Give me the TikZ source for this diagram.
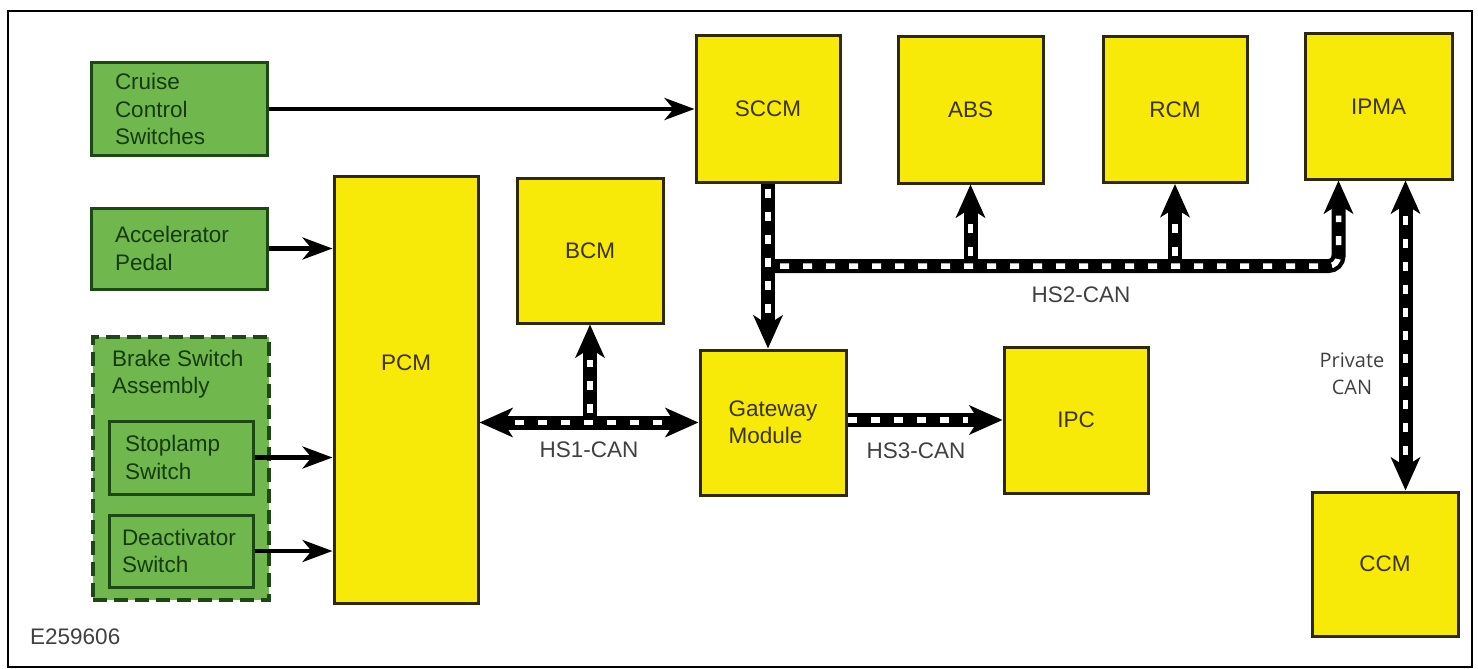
\documentclass[tikz,border=0pt]{standalone}
\usepackage{fontspec}
\setmainfont{Liberation Sans}
\newfontfamily\pcanfont{Open Sans}
\usetikzlibrary{arrows.meta}
\definecolor{gfill}{RGB}{112,184,78}
\definecolor{gdraw}{RGB}{28,72,20}
\definecolor{gtext}{RGB}{22,58,14}
\definecolor{yfill}{RGB}{247,233,8}
\definecolor{ydraw}{RGB}{48,40,10}
\definecolor{ytext}{RGB}{60,52,0}
\definecolor{ltext}{RGB}{64,64,64}
\begin{document}
\begin{tikzpicture}[x=1pt,y=-1pt,
  font=\fontsize{22.5}{27.5}\selectfont,
  ybox/.style={draw=ydraw, fill=yfill, line width=3pt, text=ytext, inner sep=0pt,
               minimum width=145pt, minimum height=146pt, align=left},
  gbox/.style={draw=gdraw, fill=gfill, line width=3pt, text=gtext, inner sep=0pt, align=left},
  lbl/.style={text=ltext, inner sep=0pt},
  thinarrow/.style={draw=black, line width=4.5pt, -{Stealth[length=30pt,width=22pt,inset=9pt]}},
  busblack/.style={draw=black, line width=14pt},
  buswhite/.style={draw=white, line width=5.5pt, dash pattern=on 9pt off 14pt},
  bushead/.style={-{Stealth[length=33pt,width=29pt,inset=9pt]}},
  busheads/.style={{Stealth[length=33pt,width=29pt,inset=9pt]}-{Stealth[length=33pt,width=29pt,inset=9pt]}}
]
\useasboundingbox (0,0) rectangle (1478,669);
\draw[line width=2.5pt] (8,11) rectangle (1472,667);

% green inputs
\node[gbox, minimum width=176pt, minimum height=92pt, text width=128pt] (cruise) at (179,109) {Cruise\\Control\\Switches};
\node[gbox, minimum width=176pt, minimum height=81pt, text width=128pt] (accel) at (179,248.5) {Accelerator\\Pedal};
\node[draw=gdraw, fill=gfill, line width=3.5pt, dash pattern=on 14pt off 7pt, minimum width=176pt, minimum height=263pt, inner sep=0pt] (brake) at (181,468.5) {};
\node[text=gtext, anchor=west, align=left, inner sep=0pt] (brakelbl) at (112,374) {Brake Switch\\Assembly};
\node[gbox, minimum width=144pt, minimum height=73pt, text width=112pt] (stop) at (181,457.5) {Stoplamp\\Switch};
\node[gbox, minimum width=144pt, minimum height=72pt, text width=118pt] (deact) at (181,551) {Deactivator\\Switch};

% yellow modules
\node[ybox, minimum width=144pt, minimum height=427pt] (PCM) at (406,389.5) {};
\node[text=ytext, inner sep=0pt] (pcmlbl) at (406,363) {PCM};
\node[ybox, minimum width=144pt] (SCCM) at (768,109) {SCCM};
\node[ybox] (ABS) at (970.5,110) {ABS};
\node[ybox, minimum width=144pt] (RCM) at (1175,109.5) {RCM};
\node[ybox, minimum width=147pt, minimum height=145pt] (IPMA) at (1378.5,106.5) {IPMA};
\node[ybox, minimum width=146pt, minimum height=145pt] (BCM) at (590,250.5) {BCM};
\node[ybox, minimum width=146pt, minimum height=145pt] (GW) at (773,422.5) {Gateway\\Module};
\node[ybox, minimum width=144pt] (IPC) at (1076,420) {IPC};
\node[ybox, minimum width=146pt, minimum height=144pt] (CCM) at (1385,564) {CCM};

% thin arrows
\draw[thinarrow] (cruise.east) -- (cruise.east -| SCCM.west);
\draw[thinarrow] (accel.east) -- (accel.east -| PCM.west);
\draw[thinarrow] (stop.east) -- (stop.east -| PCM.west);
\draw[thinarrow] (deact.east) -- (deact.east -| PCM.west);

% bus coordinates
\coordinate (h1L) at (PCM.east |- GW.west);
\coordinate (h1B) at (BCM.south |- GW.west);
\coordinate (h3L) at (GW.east |- IPC.west);
\coordinate (j2) at (768,266);
\coordinate (gwTop) at (SCCM.south |- GW.north);
\coordinate (absB) at (ABS.south |- j2);
\coordinate (rcmB) at (RCM.south |- j2);
\coordinate (ipmaIn) at ([xshift=-40pt]IPMA.south);
\coordinate (ipmaC) at (ipmaIn |- j2);
\coordinate (pcTop) at ([xshift=27pt]IPMA.south);
\coordinate (pcBot) at (pcTop |- CCM.north);

% black bus bodies
\draw[busblack, busheads] (h1L) -- (GW.west);
\draw[busblack, bushead] (h1B) -- (BCM.south);
\draw[busblack, bushead] (h3L) -- (IPC.west);
\draw[busblack, bushead] (SCCM.south) -- (gwTop);
\draw[busblack, bushead, rounded corners=10pt] (j2) -- (ipmaC) -- (ipmaIn);
\draw[busblack, bushead] (absB) -- (ABS.south);
\draw[busblack, bushead] (rcmB) -- (RCM.south);
\draw[busblack, busheads] (pcTop) -- (pcBot);

% white dashes
\draw[buswhite, shorten <=35pt, shorten >=35pt] (h1L) -- (GW.west);
\draw[buswhite, shorten <=10pt, shorten >=35pt] (h1B) -- (BCM.south);
\draw[buswhite, shorten >=35pt] (h3L) -- (IPC.west);
\draw[buswhite, shorten <=5pt, shorten >=35pt] (SCCM.south) -- (gwTop);
\draw[buswhite, rounded corners=10pt, shorten <=12pt, shorten >=35pt] (j2) -- (ipmaC) -- (ipmaIn);
\draw[buswhite, shorten <=10pt, shorten >=35pt] (absB) -- (ABS.south);
\draw[buswhite, shorten <=10pt, shorten >=35pt] (rcmB) -- (RCM.south);
\draw[buswhite, shorten <=35pt, shorten >=35pt] (pcTop) -- (pcBot);

% bus labels
\node[lbl] (hs1) at (589,450) {HS1-CAN};
\node[lbl] (hs3) at (916,451) {HS3-CAN};
\node[lbl] (hs2) at (1081,295) {HS2-CAN};
\node[lbl, font=\pcanfont\fontsize{20}{27}\selectfont, align=center] (pcan) at (1352,373.5) {Private\\CAN};
\node[lbl, anchor=west] (fig) at (30,637) {E259606};
\end{tikzpicture}
\end{document}
